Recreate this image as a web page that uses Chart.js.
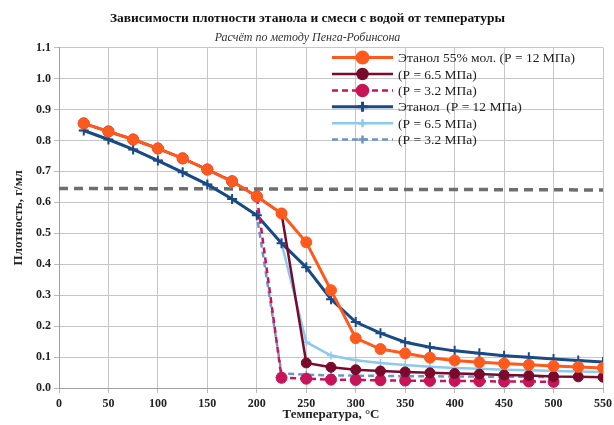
<!DOCTYPE html>
<html>
<head>
<meta charset="utf-8">
<script src="https://cdn.jsdelivr.net/npm/chart.js@4.4.1/dist/chart.umd.min.js"></script>
<style>
  html, body { margin: 0; padding: 0; background: #fff; }
  #wrap { width: 614px; height: 425px; position: relative; }
</style>
</head>
<body>
<div id="wrap"><canvas id="chart"></canvas></div>
<script>
// temperatures, °C
const temps = [25, 50, 75, 100, 125, 150, 175, 200, 225, 250, 275, 300, 325, 350, 375, 400, 425, 450, 475, 500, 525, 550]

// density, g/ml - ethanol/water mixture 55% mol
const mix12 = [0.855, 0.829, 0.803, 0.774, 0.742, 0.706, 0.668, 0.619, 0.564, 0.471, 0.316, 0.161, 0.126, 0.112, 0.098, 0.089, 0.083, 0.079, 0.075, 0.071, 0.068, 0.065]
const mix65 = [0.855, 0.829, 0.803, 0.774, 0.742, 0.706, 0.668, 0.619, 0.564, 0.081, 0.067, 0.059, 0.055, 0.052, 0.049, 0.047, 0.045, 0.042, 0.040, 0.037, 0.036, 0.035]
const mix32 = [0.855, 0.829, 0.803, 0.774, 0.742, 0.706, 0.668, 0.619, 0.033, 0.030, 0.027, 0.026, 0.025, 0.024, 0.023, 0.023, 0.022, 0.021, 0.021, 0.020]

// density, g/ml - pure ethanol
const eth12 = [0.832, 0.803, 0.771, 0.735, 0.697, 0.658, 0.611, 0.558, 0.468, 0.390, 0.287, 0.213, 0.177, 0.148, 0.132, 0.120, 0.112, 0.104, 0.099, 0.094, 0.089, 0.084]
const eth65 = [0.832, 0.803, 0.771, 0.735, 0.697, 0.658, 0.611, 0.558, 0.468, 0.148, 0.105, 0.090, 0.081, 0.074, 0.069, 0.065, 0.062, 0.059, 0.057, 0.055, 0.053, 0.052]
const eth32 = [0.832, 0.803, 0.771, 0.735, 0.697, 0.658, 0.611, 0.558, 0.047, 0.043, 0.041, 0.040, 0.039, 0.038, 0.038, 0.037, 0.037, 0.036, 0.036, 0.035]

// horizontal grey dashed reference
const refTemps = [0, 550]
const refVals = [0.645, 0.640]

const labels = [
  "Этанол 55% мол. (P = 12 МПа)",
  "(P = 6.5 МПа)",
  "(P = 3.2 МПа)",
  "Этанол  (P = 12 МПа)",
  "(P = 6.5 МПа)",
  "(P = 3.2 МПа)"
]

const pts = (xs, ys) => ys.map((y, i) => ({x: xs[i], y: y}))
const serif = "'Liberation Serif', 'DejaVu Serif', serif"

// legend drawn inside plot area, top right
const innerLegend = {
  id: 'innerLegend',
  afterDraw(chart) {
    const ctx = chart.ctx
    const a = chart.chartArea
    const x0 = a.left + 273, len = 61, y0 = a.top + 10, dy = 16.4
    ctx.save()
    ctx.font = "13.5px " + serif
    ctx.textBaseline = 'middle'
    chart.data.datasets.forEach((ds, i) => {
      if (i >= labels.length) return
      const y = y0 + i * dy
      ctx.strokeStyle = ds.borderColor
      ctx.lineWidth = ds.borderWidth
      ctx.setLineDash(ds.borderDash || [])
      ctx.beginPath()
      ctx.moveTo(x0, y)
      ctx.lineTo(x0 + len, y)
      ctx.stroke()
      ctx.setLineDash([])
      ctx.fillStyle = ds.backgroundColor
      Chart.helpers.drawPoint(ctx, {
        pointStyle: ds.pointStyle,
        radius: ds.pointRadius,
        borderWidth: ds.pointBorderWidth || 1,
        rotation: 0
      }, x0 + len / 2, y)
      ctx.fillStyle = '#222'
      ctx.fillText(labels[i], x0 + len + 5, y + 1)
    })
    ctx.restore()
  }
}

new Chart(document.getElementById('chart'), {
  type: 'line',
  data: {
    datasets: [
      {
        label: labels[0],
        data: pts(temps, mix12),
        borderColor: '#FF5A1E', backgroundColor: '#FF5A1E',
        borderWidth: 3, pointStyle: 'circle', pointRadius: 5.5, pointBorderWidth: 1
      },
      {
        label: labels[1],
        data: pts(temps, mix65),
        borderColor: '#7A0A2C', backgroundColor: '#7A0A2C',
        borderWidth: 2.5, pointStyle: 'circle', pointRadius: 5, pointBorderWidth: 1
      },
      {
        label: labels[2],
        data: pts(temps, mix32),
        borderColor: '#C81458', backgroundColor: '#C81458',
        borderWidth: 2.5, borderDash: [6, 4], pointStyle: 'circle', pointRadius: 5.5, pointBorderWidth: 1
      },
      {
        label: labels[3],
        data: pts(temps, eth12),
        borderColor: '#1A4A86', backgroundColor: '#1A4A86',
        borderWidth: 3, pointStyle: 'cross', pointRadius: 5, pointBorderWidth: 2
      },
      {
        label: labels[4],
        data: pts(temps, eth65),
        borderColor: '#8CC8F0', backgroundColor: '#8CC8F0',
        borderWidth: 2.5, pointStyle: 'cross', pointRadius: 4, pointBorderWidth: 1.5
      },
      {
        label: labels[5],
        data: pts(temps, eth32),
        borderColor: '#6E95C8', backgroundColor: '#6E95C8',
        borderWidth: 2.5, borderDash: [6, 4], pointStyle: 'cross', pointRadius: 4, pointBorderWidth: 1.5
      },
      {
        label: 'ref',
        data: pts(refTemps, refVals),
        borderColor: '#6E6E6E', backgroundColor: '#6E6E6E',
        borderWidth: 3.5, borderDash: [9, 6], pointRadius: 0
      }
    ]
  },
  options: {
    responsive: true,
    maintainAspectRatio: false,
    animation: false,
    layout: { padding: { left: 12, right: 11, top: 0, bottom: 0 } },
    plugins: {
      legend: { display: false },
      tooltip: { enabled: false },
      title: {
        display: true,
        text: 'Зависимости плотности этанола и смеси с водой от температуры',
        color: '#111',
        font: { family: serif, size: 13.5, weight: 'bold', lineHeight: 1.2 },
        padding: { top: 10, bottom: 4 }
      },
      subtitle: {
        display: true,
        text: 'Расчёт по методу Пенга-Робинсона',
        color: '#333',
        font: { family: serif, size: 12, style: 'italic', lineHeight: 1.2 },
        padding: { top: 0, bottom: 3 }
      }
    },
    scales: {
      x: {
        type: 'linear',
        min: 0, max: 550,
        ticks: { stepSize: 50, color: '#222', padding: 4, maxRotation: 0,
          font: { family: serif, size: 12, weight: 'bold' } },
        grid: { color: '#C6C6C6', tickLength: 5, tickColor: '#BBBBBB' },
        border: { color: '#A0A0A0' },
        title: { display: true, text: 'Температура, °C', color: '#222',
          font: { family: serif, size: 13, weight: 'bold', lineHeight: 1 },
          padding: { top: 0, bottom: 4 } },
        afterFit: s => { s.height = 37; s.paddingRight = 0 }
      },
      y: {
        min: 0, max: 1.1,
        ticks: { stepSize: 0.1, color: '#222', padding: 3,
          callback: v => Number(v).toFixed(1),
          font: { family: serif, size: 12, weight: 'bold' } },
        grid: { color: '#C6C6C6', tickLength: 5, tickColor: '#BBBBBB' },
        border: { color: '#A0A0A0' },
        title: { display: true, text: 'Плотность, г/мл', color: '#222',
          font: { family: serif, size: 13, weight: 'bold', lineHeight: 1 },
          padding: { top: 0, bottom: 4 } },
        afterFit: s => { s.width = 47 }
      }
    }
  },
  plugins: [innerLegend]
})
</script>
</body>
</html>
